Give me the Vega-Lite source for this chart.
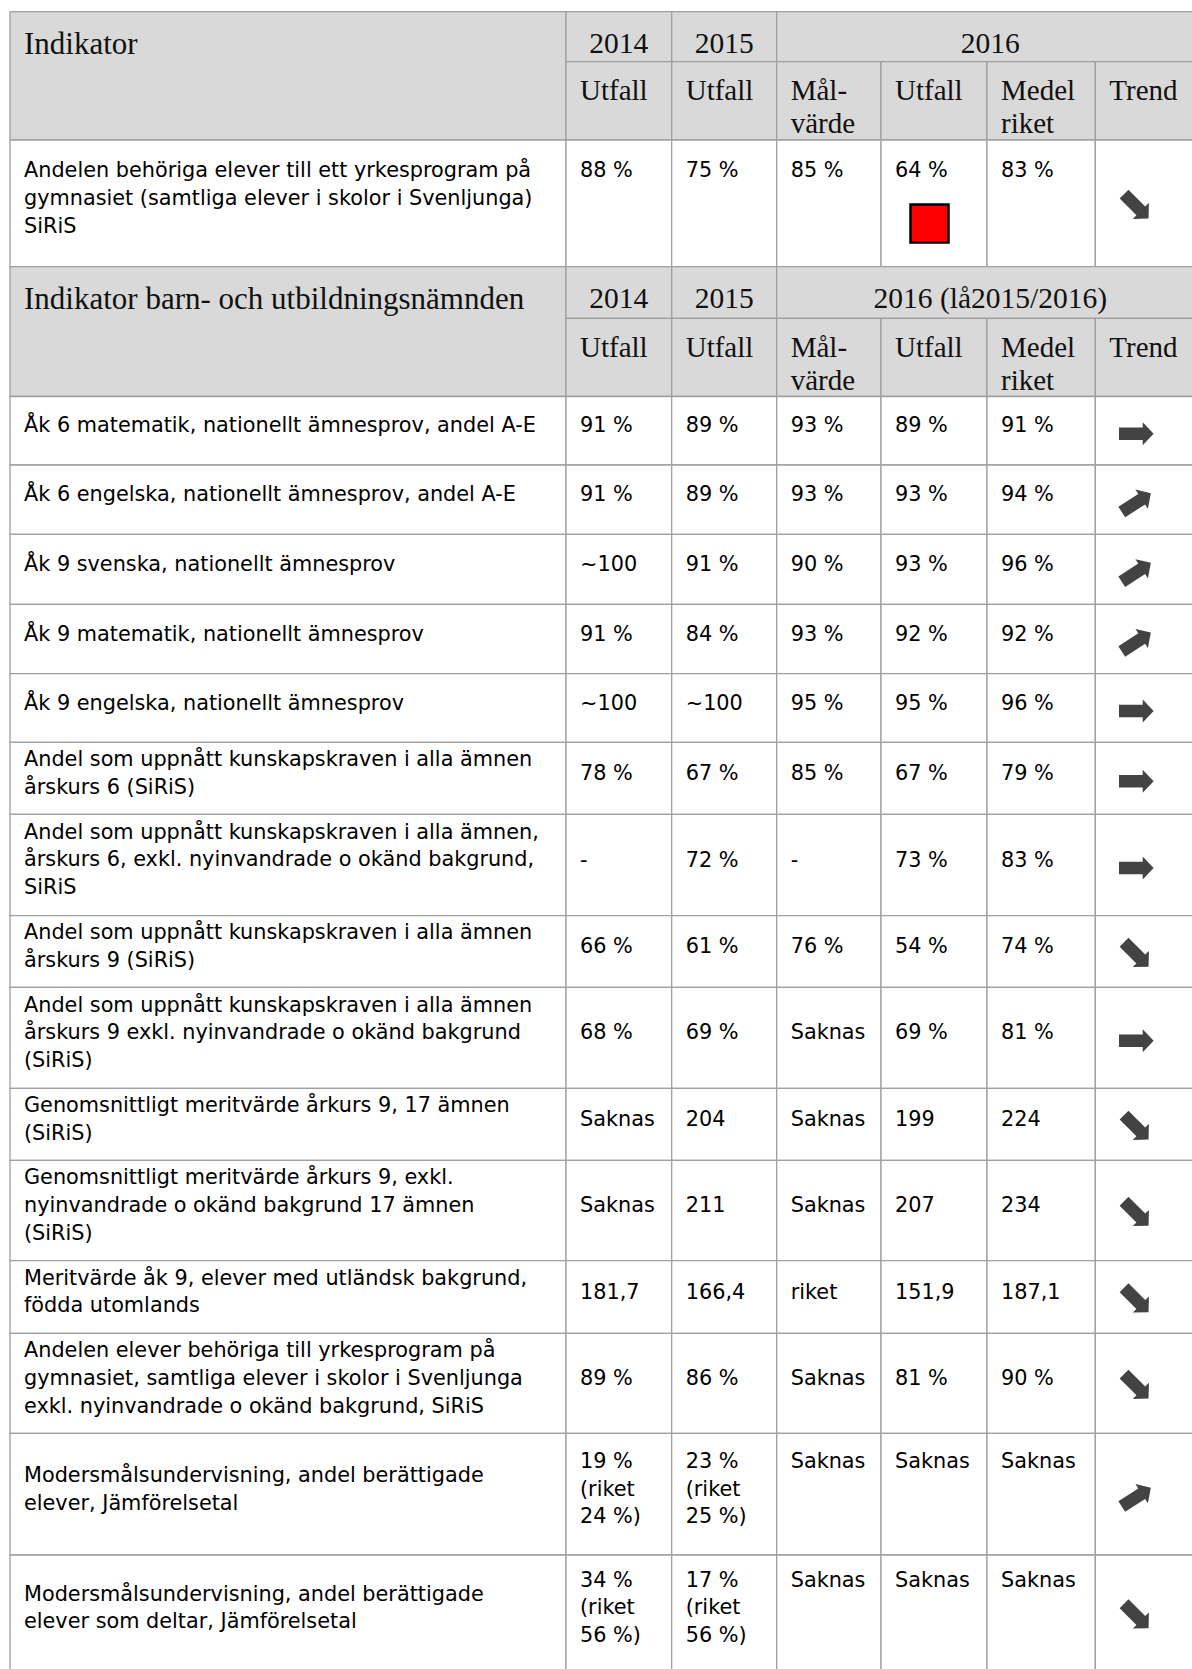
{
  "$schema": "https://vega.github.io/schema/vega-lite/v6.json",
  "width": 1192,
  "height": 1669,
  "padding": 0,
  "autosize": "none",
  "background": "#ffffff",
  "config": {"view": {"stroke": null}},
  "data": {"values": [
    {"r0":0,"r1":2,"c0":0,"c1":1,"part":"title","text":"Indikator"},
    {"r0":0,"r1":1,"c0":1,"c1":2,"part":"year","text":"2014"},
    {"r0":0,"r1":1,"c0":2,"c1":3,"part":"year","text":"2015"},
    {"r0":0,"r1":1,"c0":3,"c1":7,"part":"year","text":"2016"},
    {"r0":1,"r1":2,"c0":1,"c1":2,"part":"sub","text":"Utfall"},
    {"r0":1,"r1":2,"c0":2,"c1":3,"part":"sub","text":"Utfall"},
    {"r0":1,"r1":2,"c0":3,"c1":4,"part":"sub","text":"Mål-\nvärde"},
    {"r0":1,"r1":2,"c0":4,"c1":5,"part":"sub","text":"Utfall"},
    {"r0":1,"r1":2,"c0":5,"c1":6,"part":"sub","text":"Medel\nriket"},
    {"r0":1,"r1":2,"c0":6,"c1":7,"part":"sub","text":"Trend"},
    {"r0":2,"r1":3,"c0":0,"c1":1,"part":"body","text":"Andelen behöriga elever till ett yrkesprogram på\ngymnasiet (samtliga elever i skolor i Svenljunga)\nSiRiS"},
    {"r0":2,"r1":3,"c0":1,"c1":2,"part":"body","text":"88 %\n\n"},
    {"r0":2,"r1":3,"c0":2,"c1":3,"part":"body","text":"75 %\n\n"},
    {"r0":2,"r1":3,"c0":3,"c1":4,"part":"body","text":"85 %\n\n"},
    {"r0":2,"r1":3,"c0":4,"c1":5,"part":"body","text":"64 %\n\n","status":"red"},
    {"r0":2,"r1":3,"c0":5,"c1":6,"part":"body","text":"83 %\n\n"},
    {"r0":2,"r1":3,"c0":6,"c1":7,"part":"trend","text":"down"},
    {"r0":3,"r1":5,"c0":0,"c1":1,"part":"title","text":"Indikator barn- och utbildningsnämnden"},
    {"r0":3,"r1":4,"c0":1,"c1":2,"part":"year","text":"2014"},
    {"r0":3,"r1":4,"c0":2,"c1":3,"part":"year","text":"2015"},
    {"r0":3,"r1":4,"c0":3,"c1":7,"part":"year","text":"2016 (lå2015/2016)"},
    {"r0":4,"r1":5,"c0":1,"c1":2,"part":"sub","text":"Utfall"},
    {"r0":4,"r1":5,"c0":2,"c1":3,"part":"sub","text":"Utfall"},
    {"r0":4,"r1":5,"c0":3,"c1":4,"part":"sub","text":"Mål-\nvärde"},
    {"r0":4,"r1":5,"c0":4,"c1":5,"part":"sub","text":"Utfall"},
    {"r0":4,"r1":5,"c0":5,"c1":6,"part":"sub","text":"Medel\nriket"},
    {"r0":4,"r1":5,"c0":6,"c1":7,"part":"sub","text":"Trend"},

    {"r0":5,"r1":6,"c0":0,"c1":1,"part":"body","text":"Åk 6 matematik, nationellt ämnesprov, andel A-E"},
    {"r0":5,"r1":6,"c0":1,"c1":2,"part":"body","text":"91 %"},
    {"r0":5,"r1":6,"c0":2,"c1":3,"part":"body","text":"89 %"},
    {"r0":5,"r1":6,"c0":3,"c1":4,"part":"body","text":"93 %"},
    {"r0":5,"r1":6,"c0":4,"c1":5,"part":"body","text":"89 %"},
    {"r0":5,"r1":6,"c0":5,"c1":6,"part":"body","text":"91 %"},
    {"r0":5,"r1":6,"c0":6,"c1":7,"part":"trend","text":"flat"},

    {"r0":6,"r1":7,"c0":0,"c1":1,"part":"body","text":"Åk 6 engelska, nationellt ämnesprov, andel A-E"},
    {"r0":6,"r1":7,"c0":1,"c1":2,"part":"body","text":"91 %"},
    {"r0":6,"r1":7,"c0":2,"c1":3,"part":"body","text":"89 %"},
    {"r0":6,"r1":7,"c0":3,"c1":4,"part":"body","text":"93 %"},
    {"r0":6,"r1":7,"c0":4,"c1":5,"part":"body","text":"93 %"},
    {"r0":6,"r1":7,"c0":5,"c1":6,"part":"body","text":"94 %"},
    {"r0":6,"r1":7,"c0":6,"c1":7,"part":"trend","text":"up"},

    {"r0":7,"r1":8,"c0":0,"c1":1,"part":"body","text":"Åk 9 svenska, nationellt ämnesprov"},
    {"r0":7,"r1":8,"c0":1,"c1":2,"part":"body","text":"~100"},
    {"r0":7,"r1":8,"c0":2,"c1":3,"part":"body","text":"91 %"},
    {"r0":7,"r1":8,"c0":3,"c1":4,"part":"body","text":"90 %"},
    {"r0":7,"r1":8,"c0":4,"c1":5,"part":"body","text":"93 %"},
    {"r0":7,"r1":8,"c0":5,"c1":6,"part":"body","text":"96 %"},
    {"r0":7,"r1":8,"c0":6,"c1":7,"part":"trend","text":"up"},

    {"r0":8,"r1":9,"c0":0,"c1":1,"part":"body","text":"Åk 9 matematik, nationellt ämnesprov"},
    {"r0":8,"r1":9,"c0":1,"c1":2,"part":"body","text":"91 %"},
    {"r0":8,"r1":9,"c0":2,"c1":3,"part":"body","text":"84 %"},
    {"r0":8,"r1":9,"c0":3,"c1":4,"part":"body","text":"93 %"},
    {"r0":8,"r1":9,"c0":4,"c1":5,"part":"body","text":"92 %"},
    {"r0":8,"r1":9,"c0":5,"c1":6,"part":"body","text":"92 %"},
    {"r0":8,"r1":9,"c0":6,"c1":7,"part":"trend","text":"up"},

    {"r0":9,"r1":10,"c0":0,"c1":1,"part":"body","text":"Åk 9 engelska, nationellt ämnesprov"},
    {"r0":9,"r1":10,"c0":1,"c1":2,"part":"body","text":"~100"},
    {"r0":9,"r1":10,"c0":2,"c1":3,"part":"body","text":"~100"},
    {"r0":9,"r1":10,"c0":3,"c1":4,"part":"body","text":"95 %"},
    {"r0":9,"r1":10,"c0":4,"c1":5,"part":"body","text":"95 %"},
    {"r0":9,"r1":10,"c0":5,"c1":6,"part":"body","text":"96 %"},
    {"r0":9,"r1":10,"c0":6,"c1":7,"part":"trend","text":"flat"},

    {"r0":10,"r1":11,"c0":0,"c1":1,"part":"body","text":"Andel som uppnått kunskapskraven i alla ämnen\nårskurs 6 (SiRiS)"},
    {"r0":10,"r1":11,"c0":1,"c1":2,"part":"body","text":"78 %"},
    {"r0":10,"r1":11,"c0":2,"c1":3,"part":"body","text":"67 %"},
    {"r0":10,"r1":11,"c0":3,"c1":4,"part":"body","text":"85 %"},
    {"r0":10,"r1":11,"c0":4,"c1":5,"part":"body","text":"67 %"},
    {"r0":10,"r1":11,"c0":5,"c1":6,"part":"body","text":"79 %"},
    {"r0":10,"r1":11,"c0":6,"c1":7,"part":"trend","text":"flat"},

    {"r0":11,"r1":12,"c0":0,"c1":1,"part":"body","text":"Andel som uppnått kunskapskraven i alla ämnen,\nårskurs 6, exkl. nyinvandrade o okänd bakgrund,\nSiRiS"},
    {"r0":11,"r1":12,"c0":1,"c1":2,"part":"body","text":"-"},
    {"r0":11,"r1":12,"c0":2,"c1":3,"part":"body","text":"72 %"},
    {"r0":11,"r1":12,"c0":3,"c1":4,"part":"body","text":"-"},
    {"r0":11,"r1":12,"c0":4,"c1":5,"part":"body","text":"73 %"},
    {"r0":11,"r1":12,"c0":5,"c1":6,"part":"body","text":"83 %"},
    {"r0":11,"r1":12,"c0":6,"c1":7,"part":"trend","text":"flat"},

    {"r0":12,"r1":13,"c0":0,"c1":1,"part":"body","text":"Andel som uppnått kunskapskraven i alla ämnen\nårskurs 9 (SiRiS)"},
    {"r0":12,"r1":13,"c0":1,"c1":2,"part":"body","text":"66 %"},
    {"r0":12,"r1":13,"c0":2,"c1":3,"part":"body","text":"61 %"},
    {"r0":12,"r1":13,"c0":3,"c1":4,"part":"body","text":"76 %"},
    {"r0":12,"r1":13,"c0":4,"c1":5,"part":"body","text":"54 %"},
    {"r0":12,"r1":13,"c0":5,"c1":6,"part":"body","text":"74 %"},
    {"r0":12,"r1":13,"c0":6,"c1":7,"part":"trend","text":"down"},

    {"r0":13,"r1":14,"c0":0,"c1":1,"part":"body","text":"Andel som uppnått kunskapskraven i alla ämnen\nårskurs 9 exkl. nyinvandrade o okänd bakgrund\n(SiRiS)"},
    {"r0":13,"r1":14,"c0":1,"c1":2,"part":"body","text":"68 %"},
    {"r0":13,"r1":14,"c0":2,"c1":3,"part":"body","text":"69 %"},
    {"r0":13,"r1":14,"c0":3,"c1":4,"part":"body","text":"Saknas"},
    {"r0":13,"r1":14,"c0":4,"c1":5,"part":"body","text":"69 %"},
    {"r0":13,"r1":14,"c0":5,"c1":6,"part":"body","text":"81 %"},
    {"r0":13,"r1":14,"c0":6,"c1":7,"part":"trend","text":"flat"},

    {"r0":14,"r1":15,"c0":0,"c1":1,"part":"body","text":"Genomsnittligt meritvärde årkurs 9, 17 ämnen\n(SiRiS)"},
    {"r0":14,"r1":15,"c0":1,"c1":2,"part":"body","text":"Saknas"},
    {"r0":14,"r1":15,"c0":2,"c1":3,"part":"body","text":"204"},
    {"r0":14,"r1":15,"c0":3,"c1":4,"part":"body","text":"Saknas"},
    {"r0":14,"r1":15,"c0":4,"c1":5,"part":"body","text":"199"},
    {"r0":14,"r1":15,"c0":5,"c1":6,"part":"body","text":"224"},
    {"r0":14,"r1":15,"c0":6,"c1":7,"part":"trend","text":"down"},

    {"r0":15,"r1":16,"c0":0,"c1":1,"part":"body","text":"Genomsnittligt meritvärde årkurs 9, exkl.\nnyinvandrade o okänd bakgrund 17 ämnen\n(SiRiS)"},
    {"r0":15,"r1":16,"c0":1,"c1":2,"part":"body","text":"Saknas"},
    {"r0":15,"r1":16,"c0":2,"c1":3,"part":"body","text":"211"},
    {"r0":15,"r1":16,"c0":3,"c1":4,"part":"body","text":"Saknas"},
    {"r0":15,"r1":16,"c0":4,"c1":5,"part":"body","text":"207"},
    {"r0":15,"r1":16,"c0":5,"c1":6,"part":"body","text":"234"},
    {"r0":15,"r1":16,"c0":6,"c1":7,"part":"trend","text":"down"},

    {"r0":16,"r1":17,"c0":0,"c1":1,"part":"body","text":"Meritvärde åk 9, elever med utländsk bakgrund,\nfödda utomlands"},
    {"r0":16,"r1":17,"c0":1,"c1":2,"part":"body","text":"181,7"},
    {"r0":16,"r1":17,"c0":2,"c1":3,"part":"body","text":"166,4"},
    {"r0":16,"r1":17,"c0":3,"c1":4,"part":"body","text":"riket"},
    {"r0":16,"r1":17,"c0":4,"c1":5,"part":"body","text":"151,9"},
    {"r0":16,"r1":17,"c0":5,"c1":6,"part":"body","text":"187,1"},
    {"r0":16,"r1":17,"c0":6,"c1":7,"part":"trend","text":"down"},

    {"r0":17,"r1":18,"c0":0,"c1":1,"part":"body","text":"Andelen elever behöriga till yrkesprogram på\ngymnasiet, samtliga elever i skolor i Svenljunga\nexkl. nyinvandrade o okänd bakgrund, SiRiS"},
    {"r0":17,"r1":18,"c0":1,"c1":2,"part":"body","text":"89 %"},
    {"r0":17,"r1":18,"c0":2,"c1":3,"part":"body","text":"86 %"},
    {"r0":17,"r1":18,"c0":3,"c1":4,"part":"body","text":"Saknas"},
    {"r0":17,"r1":18,"c0":4,"c1":5,"part":"body","text":"81 %"},
    {"r0":17,"r1":18,"c0":5,"c1":6,"part":"body","text":"90 %"},
    {"r0":17,"r1":18,"c0":6,"c1":7,"part":"trend","text":"down"},

    {"r0":18,"r1":19,"c0":0,"c1":1,"part":"body","text":"Modersmålsundervisning, andel berättigade\nelever, Jämförelsetal"},
    {"r0":18,"r1":19,"c0":1,"c1":2,"part":"body","text":"19 %\n(riket\n24 %)"},
    {"r0":18,"r1":19,"c0":2,"c1":3,"part":"body","text":"23 %\n(riket\n25 %)"},
    {"r0":18,"r1":19,"c0":3,"c1":4,"part":"body","text":"Saknas\n\n"},
    {"r0":18,"r1":19,"c0":4,"c1":5,"part":"body","text":"Saknas\n\n"},
    {"r0":18,"r1":19,"c0":5,"c1":6,"part":"body","text":"Saknas\n\n"},
    {"r0":18,"r1":19,"c0":6,"c1":7,"part":"trend","text":"up"},

    {"r0":19,"r1":20,"c0":0,"c1":1,"part":"body","text":"Modersmålsundervisning, andel berättigade\nelever som deltar, Jämförelsetal"},
    {"r0":19,"r1":20,"c0":1,"c1":2,"part":"body","text":"34 %\n(riket\n56 %)"},
    {"r0":19,"r1":20,"c0":2,"c1":3,"part":"body","text":"17 %\n(riket\n56 %)"},
    {"r0":19,"r1":20,"c0":3,"c1":4,"part":"body","text":"Saknas\n\n"},
    {"r0":19,"r1":20,"c0":4,"c1":5,"part":"body","text":"Saknas\n\n"},
    {"r0":19,"r1":20,"c0":5,"c1":6,"part":"body","text":"Saknas\n\n"},
    {"r0":19,"r1":20,"c0":6,"c1":7,"part":"trend","text":"down"}
  ]},
  "resolve": {"scale": {"x": "independent", "y": "independent"}},
  "layer": [
    {
      "mark": {"type": "rect", "stroke": "#a0a0a0", "strokeWidth": 1.3},
      "encoding": {
        "x": {"field": "c0", "type": "quantitative", "axis": null, "scale": {"domain": [0,1,2,3,4,5,6,7], "range": [10,566,671.7,776.7,881,987,1095.3,1204], "nice": false, "zero": false}},
        "x2": {"field": "c1"},
        "y": {"field": "r0", "type": "quantitative", "axis": null, "scale": {"domain": [0,1,2,3,4,5,6,7,8,9,10,11,12,13,14,15,16,17,18,19,20], "range": [11.7,61.7,140,266.7,318.3,396.5,465,534.3,604.3,673.7,742.3,814.3,915.7,987.3,1088.3,1160.3,1260.7,1333.3,1433.3,1555,1671], "nice": false, "zero": false}},
        "y2": {"field": "r1"},
        "fill": {"field": "part", "type": "nominal", "legend": null, "scale": {"domain": ["title","year","sub","body","trend"], "range": ["#d9d9d9","#d9d9d9","#d9d9d9","#ffffff","#ffffff"]}}
      }
    },
    {
      "transform": [{"filter": "datum.part == 'title'"}],
      "mark": {"type": "text", "font": "Liberation Serif", "fontSize": 31, "align": "left", "baseline": "alphabetic", "dx": 14, "dy": 42, "color": "#111111"},
      "encoding": {
        "x": {"field": "c0", "type": "quantitative", "axis": null, "scale": {"domain": [0,1,2,3,4,5,6,7], "range": [10,566,671.7,776.7,881,987,1095.3,1204], "nice": false, "zero": false}},
        "y": {"field": "r0", "type": "quantitative", "axis": null, "scale": {"domain": [0,1,2,3,4,5,6,7,8,9,10,11,12,13,14,15,16,17,18,19,20], "range": [11.7,61.7,140,266.7,318.3,396.5,465,534.3,604.3,673.7,742.3,814.3,915.7,987.3,1088.3,1160.3,1260.7,1333.3,1433.3,1555,1671], "nice": false, "zero": false}},
        "text": {"field": "text"}
      }
    },
    {
      "transform": [{"filter": "datum.part == 'year'"}],
      "mark": {"type": "text", "font": "Liberation Serif", "fontSize": 29.5, "align": "center", "baseline": "alphabetic", "dy": 41.5, "color": "#111111"},
      "encoding": {
        "x": {"field": "c0", "type": "quantitative", "axis": null, "scale": {"domain": [1,2,3], "range": [618.85,724.2,990.35], "nice": false, "zero": false}},
        "y": {"field": "r0", "type": "quantitative", "axis": null, "scale": {"domain": [0,1,2,3,4,5,6,7,8,9,10,11,12,13,14,15,16,17,18,19,20], "range": [11.7,61.7,140,266.7,318.3,396.5,465,534.3,604.3,673.7,742.3,814.3,915.7,987.3,1088.3,1160.3,1260.7,1333.3,1433.3,1555,1671], "nice": false, "zero": false}},
        "text": {"field": "text"}
      }
    },
    {
      "transform": [{"filter": "datum.part == 'sub'"}],
      "mark": {"type": "text", "font": "Liberation Serif", "fontSize": 29, "align": "left", "baseline": "alphabetic", "dx": 14, "dy": 38.5, "lineBreak": "\n", "lineHeight": 33, "color": "#111111"},
      "encoding": {
        "x": {"field": "c0", "type": "quantitative", "axis": null, "scale": {"domain": [0,1,2,3,4,5,6,7], "range": [10,566,671.7,776.7,881,987,1095.3,1204], "nice": false, "zero": false}},
        "y": {"field": "r0", "type": "quantitative", "axis": null, "scale": {"domain": [0,1,2,3,4,5,6,7,8,9,10,11,12,13,14,15,16,17,18,19,20], "range": [11.7,61.7,140,266.7,318.3,396.5,465,534.3,604.3,673.7,742.3,814.3,915.7,987.3,1088.3,1160.3,1260.7,1333.3,1433.3,1555,1671], "nice": false, "zero": false}},
        "text": {"field": "text"}
      }
    },
    {
      "encoding": {
        "x": {"field": "c0", "type": "quantitative", "axis": null, "scale": {"domain": [0,1,2,3,4,5,6,7], "range": [10,566,671.7,776.7,881,987,1095.3,1204], "nice": false, "zero": false}},
        "y": {"field": "r0", "type": "quantitative", "axis": null, "scale": {"domain": [0,1,2,3,4,5,6,7,8,9,10,11,12,13,14,15,16,17,18,19], "range": [36.7,100.85,203.35,292.5,357.4,430.75,499.65,569.3,639,708,778.3,865,951.5,1037.8,1124.3,1210.5,1297,1383.3,1494.15,1613], "nice": false, "zero": false}},
        "text": {"field": "text"}
      },
      "layer": [
        {
          "transform": [{"filter": "datum.part == 'body' && split(datum.text, '\\n').length == 1"}],
          "mark": {"type": "text", "font": "DejaVu Sans", "fontSize": 20.8, "align": "left", "baseline": "middle", "dx": 14, "dy": -4.5, "lineBreak": "\n", "lineHeight": 27.8, "color": "#000000"}
        },
        {
          "transform": [{"filter": "datum.part == 'body' && split(datum.text, '\\n').length == 2"}],
          "mark": {"type": "text", "font": "DejaVu Sans", "fontSize": 20.8, "align": "left", "baseline": "middle", "dx": 14, "dy": -18.4, "lineBreak": "\n", "lineHeight": 27.8, "color": "#000000"}
        },
        {
          "transform": [{"filter": "datum.part == 'body' && split(datum.text, '\\n').length == 3"}],
          "mark": {"type": "text", "font": "DejaVu Sans", "fontSize": 20.8, "align": "left", "baseline": "middle", "dx": 14, "dy": -32.3, "lineBreak": "\n", "lineHeight": 27.8, "color": "#000000"}
        }
      ]
    },
    {
      "encoding": {
        "x": {"field": "c0", "type": "quantitative", "axis": null, "scale": {"domain": [0,1,2,3,4,5,6,7], "range": [10,566,671.7,776.7,881,987,1095.3,1204], "nice": false, "zero": false}},
        "y": {"field": "r0", "type": "quantitative", "axis": null, "scale": {"domain": [0,1,2,3,4,5,6,7,8,9,10,11,12,13,14,15,16,17,18,19], "range": [36.7,100.85,203.35,292.5,357.4,430.75,499.65,569.3,639,708,778.3,865,951.5,1037.8,1124.3,1210.5,1297,1383.3,1494.15,1613], "nice": false, "zero": false}}
      },
      "layer": [
        {
          "transform": [{"filter": "datum.part == 'trend' && datum.text == 'flat'"}],
          "mark": {"type": "point", "filled": true, "opacity": 1, "color": "#434343", "size": 1200, "angle": 0, "shape": "M -1 -0.36 L 0.37 -0.36 L 0.37 -0.66 L 1 0 L 0.37 0.66 L 0.37 0.36 L -1 0.36 Z", "xOffset": 41, "yOffset": 3}
        },
        {
          "transform": [{"filter": "datum.part == 'trend' && datum.text == 'up'"}],
          "mark": {"type": "point", "filled": true, "opacity": 1, "color": "#434343", "size": 1200, "angle": -33, "shape": "M -1 -0.36 L 0.37 -0.36 L 0.37 -0.66 L 1 0 L 0.37 0.66 L 0.37 0.36 L -1 0.36 Z", "xOffset": 41, "yOffset": 3}
        },
        {
          "transform": [{"filter": "datum.part == 'trend' && datum.text == 'down'"}],
          "mark": {"type": "point", "filled": true, "opacity": 1, "color": "#434343", "size": 1200, "angle": 45, "shape": "M -1 -0.36 L 0.37 -0.36 L 0.37 -0.66 L 1 0 L 0.37 0.66 L 0.37 0.36 L -1 0.36 Z", "xOffset": 41, "yOffset": 3}
        }
      ]
    },
    {
      "transform": [{"filter": "datum.status == 'red'"}],
      "mark": {"type": "point", "shape": "square", "filled": true, "opacity": 1, "fill": "#ff0000", "stroke": "#000000", "strokeWidth": 2.5, "size": 1444, "xOffset": 48.5, "yOffset": 83.5},
      "encoding": {
        "x": {"field": "c0", "type": "quantitative", "axis": null, "scale": {"domain": [0,1,2,3,4,5,6,7], "range": [10,566,671.7,776.7,881,987,1095.3,1204], "nice": false, "zero": false}},
        "y": {"field": "r0", "type": "quantitative", "axis": null, "scale": {"domain": [0,1,2,3,4,5,6,7,8,9,10,11,12,13,14,15,16,17,18,19,20], "range": [11.7,61.7,140,266.7,318.3,396.5,465,534.3,604.3,673.7,742.3,814.3,915.7,987.3,1088.3,1160.3,1260.7,1333.3,1433.3,1555,1671], "nice": false, "zero": false}}
      }
    }
  ]
}
